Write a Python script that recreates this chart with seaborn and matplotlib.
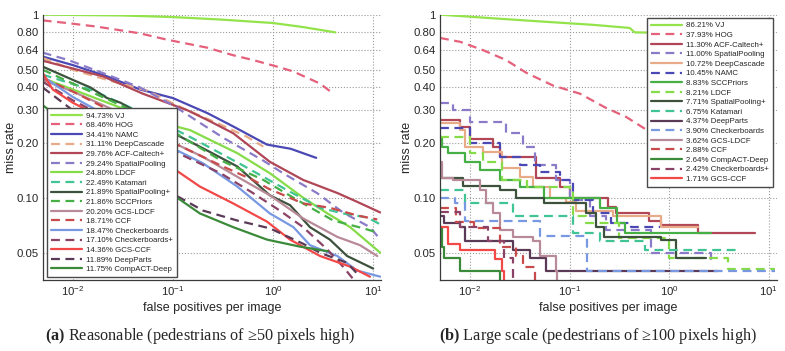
import matplotlib
matplotlib.use('Agg')
import matplotlib.pyplot as plt
import seaborn as sns
from matplotlib.ticker import NullLocator

# ---------------- (a) Reasonable ----------------
a_names = ['VJ', 'HOG', 'NAMC', 'DeepCascade', 'ACF-Caltech+', 'SpatialPooling', 'LDCF',
           'Katamari', 'SpatialPooling+', 'SCCPriors', 'GCS-LDCF', 'CCF', 'Checkerboards',
           'Checkerboards+', 'GCS-CCF', 'DeepParts', 'CompACT-Deep']
a_scores = [94.73, 68.46, 34.41, 31.11, 29.76, 29.24, 24.80, 22.49, 21.89, 21.86, 20.20,
            18.71, 18.47, 17.10, 14.36, 11.89, 11.75]

a_vj_fppi = [0.005, 0.03, 0.1, 0.3, 1.0, 2.0, 4.2]
a_vj_mr = [1.0, 0.99, 0.97, 0.94, 0.90, 0.855, 0.80]
a_hog_fppi = [0.005, 0.0087, 0.0174, 0.047, 0.087, 0.22, 0.40, 0.63, 1.1, 1.58, 2.95, 4.0]
a_hog_mr = [0.93, 0.90, 0.86, 0.79, 0.73, 0.66, 0.60, 0.565, 0.52, 0.49, 0.42, 0.37]
a_namc_fppi = [0.005, 0.01, 0.022, 0.047, 0.1, 0.22, 0.4, 0.87, 1.5, 2.7]
a_namc_mr = [0.59, 0.53, 0.46, 0.39, 0.35, 0.29, 0.245, 0.195, 0.185, 0.165]
a_dc_fppi = [0.005, 0.01, 0.022, 0.055, 0.087, 0.14, 0.28, 0.55, 0.8]
a_dc_mr = [0.58, 0.50, 0.44, 0.385, 0.34, 0.30, 0.255, 0.215, 0.19]
a_acf_fppi = [0.005, 0.02, 0.05, 0.14, 0.22, 0.4, 0.93, 2.0, 4.4, 6.9, 11.8]
a_acf_mr = [0.56, 0.46, 0.37, 0.30, 0.266, 0.225, 0.157, 0.125, 0.106, 0.095, 0.083]
a_sp_fppi = [0.005, 0.009, 0.022, 0.047, 0.1, 0.2, 0.33, 0.79, 1.26, 2.75, 5.0, 9.3, 11.8]
a_sp_mr = [0.62, 0.565, 0.47, 0.40, 0.32, 0.25, 0.21, 0.16, 0.136, 0.106, 0.083, 0.069, 0.059]
a_ldcf_fppi = [0.005, 0.01, 0.03, 0.07, 0.148, 0.44, 0.93, 2.0, 3.5, 5.9, 11.8]
a_ldcf_mr = [0.45, 0.39, 0.31, 0.26, 0.234, 0.175, 0.136, 0.10, 0.082, 0.069, 0.050]
a_kat_fppi = [0.005, 0.015, 0.05, 0.16, 0.5, 1.38, 2.95, 5.0, 8.7, 11.5]
a_kat_mr = [0.47, 0.39, 0.29, 0.21, 0.15, 0.11, 0.088, 0.082, 0.078, 0.072]
a_spp_fppi = [0.005, 0.01, 0.015, 0.022, 0.03, 0.1, 0.2, 0.44, 0.93, 1.48, 2.34, 3.7, 5.5, 10.0]
a_spp_mr = [0.52, 0.44, 0.40, 0.35, 0.33, 0.226, 0.186, 0.148, 0.103, 0.091, 0.069, 0.059, 0.048, 0.041]
a_scc_fppi = [0.005, 0.01, 0.03, 0.1, 0.3, 0.8, 2.0, 4.0, 8.0, 11.5]
a_scc_mr = [0.50, 0.42, 0.32, 0.23, 0.16, 0.125, 0.093, 0.075, 0.068, 0.064]
a_gcsl_fppi = [0.005, 0.01, 0.03, 0.1, 0.2, 0.44, 0.93, 2.0, 4.4, 7.4, 11.0]
a_gcsl_mr = [0.44, 0.38, 0.29, 0.20, 0.167, 0.13, 0.103, 0.077, 0.061, 0.055, 0.048]
a_ccf_fppi = [0.005, 0.01, 0.03, 0.1, 0.3, 0.63, 0.9, 2.0, 3.7, 6.9, 11.0]
a_ccf_mr = [0.45, 0.38, 0.28, 0.20, 0.15, 0.125, 0.112, 0.093, 0.088, 0.08, 0.076]
a_cb_fppi = [0.005, 0.01, 0.022, 0.05, 0.1, 0.2, 0.44, 0.93, 1.6, 2.34, 4.4, 6.9, 11.8]
a_cb_mr = [0.46, 0.355, 0.28, 0.23, 0.186, 0.154, 0.115, 0.082, 0.069, 0.055, 0.048, 0.040, 0.037]
a_cbp_fppi = [0.005, 0.01, 0.03, 0.126, 0.3, 0.63, 1.17, 2.0, 3.5, 5.0, 6.3]
a_cbp_mr = [0.43, 0.34, 0.25, 0.17, 0.136, 0.106, 0.085, 0.069, 0.052, 0.042, 0.036]
a_gcsc_fppi = [0.005, 0.0063, 0.01, 0.015, 0.03, 0.05, 0.1, 0.186, 0.4, 0.87, 1.48, 2.95, 5.9, 9.3]
a_gcsc_mr = [0.48, 0.39, 0.33, 0.295, 0.24, 0.19, 0.145, 0.115, 0.093, 0.074, 0.059, 0.048, 0.042, 0.037]
a_dp_fppi = [0.005, 0.01, 0.03, 0.1, 0.2, 0.44, 0.93, 2.0, 2.95, 5.5, 7.4]
a_dp_mr = [0.40, 0.30, 0.19, 0.105, 0.085, 0.075, 0.068, 0.056, 0.05, 0.044, 0.037]
a_cad_fppi = [0.005, 0.01, 0.03, 0.074, 0.11, 0.186, 0.4, 0.87, 1.86, 3.5]
a_cad_mr = [0.32, 0.24, 0.17, 0.125, 0.10, 0.082, 0.069, 0.059, 0.054, 0.051]

# ---------------- (b) Large scale ----------------
b_names = ['VJ', 'HOG', 'ACF-Caltech+', 'SpatialPooling', 'DeepCascade', 'NAMC', 'SCCPriors',
           'LDCF', 'SpatialPooling+', 'Katamari', 'DeepParts', 'Checkerboards', 'GCS-LDCF',
           'CCF', 'CompACT-Deep', 'Checkerboards+', 'GCS-CCF']
b_scores = [86.21, 37.93, 11.30, 11.00, 10.72, 10.45, 8.83, 8.21, 7.71, 6.75, 4.37, 3.90,
            3.62, 2.88, 2.64, 2.42, 1.71]

b_vj_fppi = [0.005, 0.017, 0.054, 0.17, 0.4, 0.45, 2.0]
b_vj_mr = [1.0, 0.955, 0.916, 0.88, 0.846, 0.80, 0.79]
b_hog_fppi = [0.005, 0.008, 0.0135, 0.023, 0.037, 0.068, 0.127, 0.23, 0.37, 0.59, 1.0]
b_hog_mr = [0.746, 0.71, 0.64, 0.565, 0.48, 0.41, 0.37, 0.31, 0.276, 0.235, 0.21]
b_acf_fppi = [0.005, 0.008, 0.01, 0.017, 0.02, 0.046, 0.08, 0.1, 0.245, 0.29, 0.62, 0.83, 1.96, 7.3]
b_acf_mr = [0.265, 0.243, 0.21, 0.19, 0.167, 0.128, 0.115, 0.10, 0.089, 0.082, 0.075, 0.071, 0.064, 0.064]
b_sp_fppi = [0.005, 0.0068, 0.01, 0.023, 0.034, 0.045, 0.073, 0.1, 0.16, 0.23, 0.66, 2.6]
b_sp_mr = [0.33, 0.30, 0.26, 0.226, 0.19, 0.15, 0.125, 0.097, 0.079, 0.067, 0.05, 0.045]
b_dc_fppi = [0.005, 0.008, 0.009, 0.0135, 0.021, 0.032, 0.043, 0.064, 0.093, 0.116, 0.27, 0.83, 1.96]
b_dc_mr = [0.255, 0.235, 0.19, 0.178, 0.145, 0.13, 0.115, 0.10, 0.095, 0.085, 0.079, 0.069, 0.069]
b_namc_fppi = [0.005, 0.01, 0.02, 0.032, 0.051, 0.08, 0.108, 0.17, 0.26, 0.41, 0.8]
b_namc_mr = [0.24, 0.20, 0.167, 0.15, 0.138, 0.125, 0.097, 0.082, 0.073, 0.069, 0.069]
b_scc_fppi = [0.005, 0.0052, 0.006, 0.009, 0.0125, 0.02, 0.032, 0.055, 0.2, 0.3, 0.36, 2.6]
b_scc_mr = [0.215, 0.19, 0.176, 0.157, 0.142, 0.125, 0.115, 0.10, 0.088, 0.073, 0.064, 0.064]
b_ldcf_fppi = [0.005, 0.01, 0.0135, 0.021, 0.037, 0.1, 0.108, 0.146, 0.31, 1.0, 3.9, 11.5]
b_ldcf_mr = [0.215, 0.176, 0.157, 0.125, 0.115, 0.11, 0.079, 0.073, 0.06, 0.047, 0.041, 0.041]
b_spp_fppi = [0.005, 0.0085, 0.02, 0.029, 0.055, 0.146, 0.185, 0.22, 0.83, 1.18, 2.35]
b_spp_mr = [0.128, 0.116, 0.11, 0.10, 0.093, 0.082, 0.069, 0.061, 0.059, 0.047, 0.047]
b_kat_fppi = [0.005, 0.009, 0.027, 0.108, 0.2, 0.57, 5.3]
b_kat_mr = [0.11, 0.093, 0.079, 0.064, 0.058, 0.052, 0.052]
b_dp_fppi = [0.005, 0.0055, 0.008, 0.009, 0.027, 0.04, 0.058, 3.1]
b_dp_mr = [0.079, 0.073, 0.069, 0.058, 0.052, 0.047, 0.04, 0.04]
b_cb_fppi = [0.005, 0.007, 0.009, 0.04, 0.05, 0.15, 11.5]
b_cb_mr = [0.10, 0.093, 0.075, 0.075, 0.062, 0.04, 0.04]
b_gcsl_fppi = [0.005, 0.0052, 0.0068, 0.0125, 0.0145, 0.017, 0.02, 0.027, 0.043, 0.05, 0.073, 0.075]
b_gcsl_mr = [0.157, 0.128, 0.125, 0.11, 0.093, 0.082, 0.067, 0.061, 0.058, 0.048, 0.04, 0.03]
b_ccf_fppi = [0.005, 0.0072, 0.011, 0.02, 0.029, 0.034, 0.045, 0.046]
b_ccf_mr = [0.088, 0.074, 0.068, 0.054, 0.048, 0.042, 0.03, 0.03]
b_cad_fppi = [0.005, 0.0052, 0.0055, 0.008, 0.02, 0.021]
b_cad_mr = [0.069, 0.054, 0.047, 0.04, 0.03, 0.03]
b_cbp_fppi = [0.005, 0.008, 0.015, 0.022, 0.027, 0.028]
b_cbp_mr = [0.083, 0.069, 0.058, 0.047, 0.03, 0.03]
b_gcsc_fppi = [0.005, 0.006, 0.008, 0.018, 0.021, 0.022, 0.023]
b_gcsc_mr = [0.069, 0.056, 0.052, 0.046, 0.04, 0.03, 0.03]

y_ticks = [0.05, 0.10, 0.20, 0.30, 0.40, 0.50, 0.64, 0.80, 1.0]
y_ticklabels = ['0.05', '0.10', '0.20', '0.30', '0.40', '0.50', '0.64', '0.80', '1']
x_ticks = [1e-2, 1e-1, 1e0, 1e1]
x_ticklabels = [r'$\mathregular{10^{-2}}$', r'$\mathregular{10^{-1}}$',
                r'$\mathregular{10^{0}}$', r'$\mathregular{10^{1}}$']

colors = {
    'VJ': '#93e34b', 'HOG': '#e5617b', 'NAMC': '#4a48b4', 'DeepCascade': '#e8ab88',
    'ACF-Caltech+': '#b04656', 'SpatialPooling': '#8a7ac8', 'LDCF': '#86dc48',
    'Katamari': '#40c494', 'SpatialPooling+': '#3c523c', 'SCCPriors': '#46b046',
    'GCS-LDCF': '#b88a98', 'CCF': '#c84a4a', 'Checkerboards': '#7898e2',
    'Checkerboards+': '#8a4266', 'GCS-CCF': '#f24848', 'DeepParts': '#5a3a56',
    'CompACT-Deep': '#3a8a3a',
}

a_curves = [(a_vj_fppi, a_vj_mr), (a_hog_fppi, a_hog_mr), (a_namc_fppi, a_namc_mr),
            (a_dc_fppi, a_dc_mr), (a_acf_fppi, a_acf_mr), (a_sp_fppi, a_sp_mr),
            (a_ldcf_fppi, a_ldcf_mr), (a_kat_fppi, a_kat_mr), (a_spp_fppi, a_spp_mr),
            (a_scc_fppi, a_scc_mr), (a_gcsl_fppi, a_gcsl_mr), (a_ccf_fppi, a_ccf_mr),
            (a_cb_fppi, a_cb_mr), (a_cbp_fppi, a_cbp_mr), (a_gcsc_fppi, a_gcsc_mr),
            (a_dp_fppi, a_dp_mr), (a_cad_fppi, a_cad_mr)]
b_curves = [(b_vj_fppi, b_vj_mr), (b_hog_fppi, b_hog_mr), (b_acf_fppi, b_acf_mr),
            (b_sp_fppi, b_sp_mr), (b_dc_fppi, b_dc_mr), (b_namc_fppi, b_namc_mr),
            (b_scc_fppi, b_scc_mr), (b_ldcf_fppi, b_ldcf_mr), (b_spp_fppi, b_spp_mr),
            (b_kat_fppi, b_kat_mr), (b_dp_fppi, b_dp_mr), (b_cb_fppi, b_cb_mr),
            (b_gcsl_fppi, b_gcsl_mr), (b_ccf_fppi, b_ccf_mr), (b_cad_fppi, b_cad_mr),
            (b_cbp_fppi, b_cbp_mr), (b_gcsc_fppi, b_gcsc_mr)]

sns.set_style('white')
plt.rcParams['font.family'] = ['Liberation Sans', 'DejaVu Sans']
plt.rcParams['mathtext.fontset'] = 'custom'
plt.rcParams['mathtext.bf'] = 'Liberation Serif:bold'
plt.rcParams['mathtext.rm'] = 'Liberation Serif'


def draw_panel(ax, names, scores, curves, steps, ylab_x):
    for i, (name, score, (fx, mr)) in enumerate(zip(names, scores, curves)):
        ls = '-' if i % 2 == 0 else (0, (4, 2.5))
        ds = 'steps-post' if (steps and name not in ('VJ', 'HOG')) else 'default'
        sns.lineplot(x=fx, y=mr, ax=ax, color=colors[name], lw=1.6, linestyle=ls,
                     drawstyle=ds, estimator=None, sort=False,
                     label=f'{score:.2f}% {name}')
    ax.set_xscale('log')
    ax.set_yscale('log')
    ax.set_xlim(0.005, 12)
    ax.set_ylim(0.0355, 1.0)
    ax.set_xticks(x_ticks)
    ax.set_xticklabels(x_ticklabels)
    ax.set_yticks(y_ticks)
    ax.set_yticklabels(y_ticklabels)
    ax.xaxis.set_minor_locator(NullLocator())
    ax.yaxis.set_minor_locator(NullLocator())
    ax.grid(True, ls=':', color='#9a9a9a', lw=0.8)
    ax.tick_params(direction='in', length=3, width=0.8, labelsize=8.2, pad=3)
    for s in ('top', 'right'):
        ax.spines[s].set_visible(False)
    for s in ('left', 'bottom'):
        ax.spines[s].set_color('#3a3a3a')
        ax.spines[s].set_linewidth(0.9)
    ax.set_xlabel('false positives per image', fontsize=9, labelpad=3)
    ax.set_ylabel('miss rate', fontsize=9)
    ax.yaxis.set_label_coords(ylab_x, 0.5)


fig = plt.figure(figsize=(7.85, 3.51), dpi=100)
ax1 = fig.add_axes([0.0544, 0.2023, 0.431, 0.756])
ax2 = fig.add_axes([0.5605, 0.2023, 0.429, 0.756])

draw_panel(ax1, a_names, a_scores, a_curves, steps=False, ylab_x=-0.077)
draw_panel(ax2, b_names, b_scores, b_curves, steps=True, ylab_x=-0.081)

leg_kw = dict(fontsize=5.7, handlelength=4.0, labelspacing=0.26, borderpad=0.5,
              handletextpad=0.45, fancybox=False, framealpha=1, edgecolor='#4a4a4a')
leg1 = ax1.legend(loc='lower left', bbox_to_anchor=(0.012, 0.011), borderaxespad=0, **leg_kw)
leg2 = ax2.legend(loc='upper right', bbox_to_anchor=(0.988, 0.988), borderaxespad=0, **leg_kw)
for leg in (leg1, leg2):
    leg.get_frame().set_linewidth(1.0)

cap_font = ['Liberation Serif', 'DejaVu Serif']
fig.text(0.255, 0.03, r'$\mathbf{(a)}$ Reasonable (pedestrians of ≥50 pixels high)',
         ha='center', family=cap_font, fontsize=11.7)
fig.text(0.762, 0.03, r'$\mathbf{(b)}$ Large scale (pedestrians of ≥100 pixels high)',
         ha='center', family=cap_font, fontsize=11.7)

fig.savefig('out.png', dpi=100)
